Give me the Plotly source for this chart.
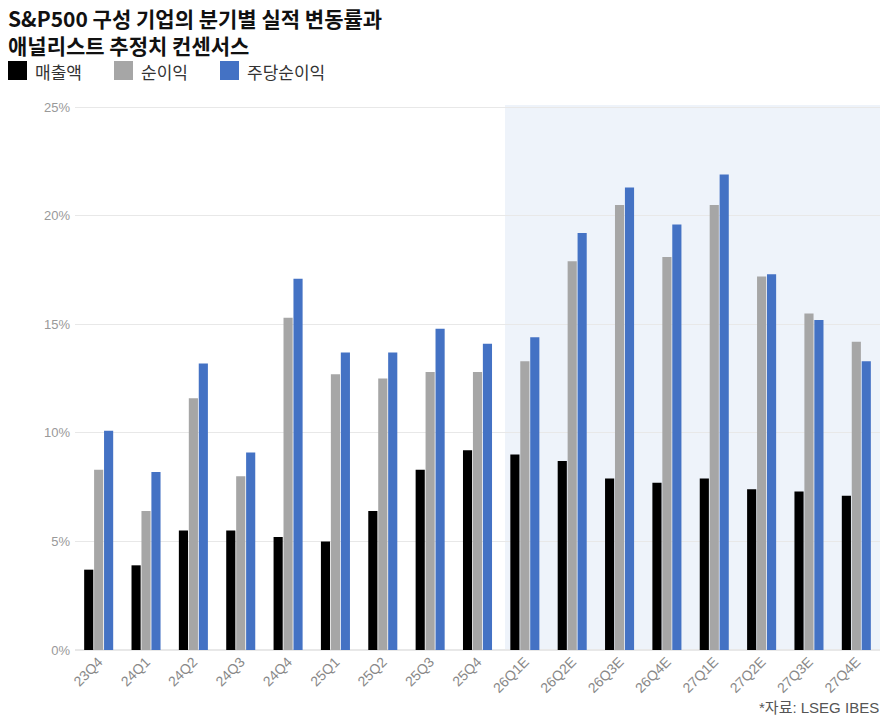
import plotly.graph_objects as go

quarters = ["23Q4", "24Q1", "24Q2", "24Q3", "24Q4", "25Q1", "25Q2", "25Q3", "25Q4",
            "26Q1E", "26Q2E", "26Q3E", "26Q4E", "27Q1E", "27Q2E", "27Q3E", "27Q4E"]
revenue = [3.7, 3.9, 5.5, 5.5, 5.2, 5.0, 6.4, 8.3, 9.2, 9.0, 8.7, 7.9, 7.7, 7.9, 7.4, 7.3, 7.1]
net_income = [8.3, 6.4, 11.6, 8.0, 15.3, 12.7, 12.5, 12.8, 12.8, 13.3, 17.9, 20.5, 18.1, 20.5, 17.2, 15.5, 14.2]
eps = [10.1, 8.2, 13.2, 9.1, 17.1, 13.7, 13.7, 14.8, 14.1, 14.4, 19.2, 21.3, 19.6, 21.9, 17.3, 15.2, 13.3]
y_ticks = [0, 5, 10, 15, 20, 25]

series = [("매출액", revenue, "#000000"),
          ("순이익", net_income, "#a6a6a6"),
          ("주당순이익", eps, "#4472c4")]

W, H = 894, 722
L, R, T, B = 75, 14, 105, 72
KR = "Noto Sans CJK KR"
NARROW = "Liberation Sans Narrow, Liberation Sans, Noto Sans CJK KR"


def px_x(px):
    return (px - L) / (W - L - R)


def px_y(py):
    return (H - B - py) / (H - T - B)


fig = go.Figure()
for name, vals, color in series:
    fig.add_trace(go.Bar(x=quarters, y=vals, name=name, marker_color=color,
                         marker_line_width=0, showlegend=False))

# estimate period shading
fig.add_shape(type="rect", xref="x", yref="y", x0=8.58, x1=16.5, y0=0, y1=25.1,
              fillcolor="#eef3fa", line_width=0, layer="below")

# title
fig.add_annotation(text="<b>S&P500 구성 기업의 분기별 실적 변동률과<br>애널리스트 추정치 컨센서스</b>",
                   xref="paper", yref="paper", x=px_x(6), y=px_y(31), xanchor="left", yanchor="middle",
                   align="left", showarrow=False,
                   font=dict(family=KR, size=21, color="#111111"))

# legend
legend_x = [8, 114, 220]
for (name, vals, color), lx in zip(series, legend_x):
    fig.add_shape(type="rect", xref="paper", yref="paper",
                  x0=px_x(lx), x1=px_x(lx + 19), y0=px_y(80), y1=px_y(61),
                  fillcolor=color, line_width=0)
    fig.add_annotation(text=name, xref="paper", yref="paper", x=px_x(lx + 25), y=px_y(71),
                       xanchor="left", yanchor="middle", showarrow=False,
                       font=dict(family=KR, size=17, color="#333333"))

# source
fig.add_annotation(text="*자료: LSEG IBES", xref="paper", yref="paper",
                   x=px_x(881), y=px_y(708), xanchor="right", yanchor="middle", showarrow=False,
                   font=dict(family=NARROW, size=15, color="#555555"))

fig.update_layout(
    width=W, height=H,
    margin=dict(l=L, r=R, t=T, b=B),
    paper_bgcolor="white", plot_bgcolor="white",
    barmode="group", bargap=0.37, bargroupgap=0.08,
    xaxis=dict(tickangle=-45, tickfont=dict(family=NARROW, size=14, color="#888888"),
               showgrid=False, showline=False, ticks=""),
    yaxis=dict(range=[0, 25.1], tickmode="array", tickvals=y_ticks,
               ticktext=[f"{v}%" for v in y_ticks],
               tickfont=dict(family=NARROW, size=13, color="#999999"),
               gridcolor="#e8e8e8", gridwidth=1, zeroline=True, zerolinecolor="#e8e8e8",
               showline=False, ticks="", ticklabelstandoff=4),
)

fig.write_html("out.html", config={"displayModeBar": False},
               post_script="document.body.style.margin='0';")
